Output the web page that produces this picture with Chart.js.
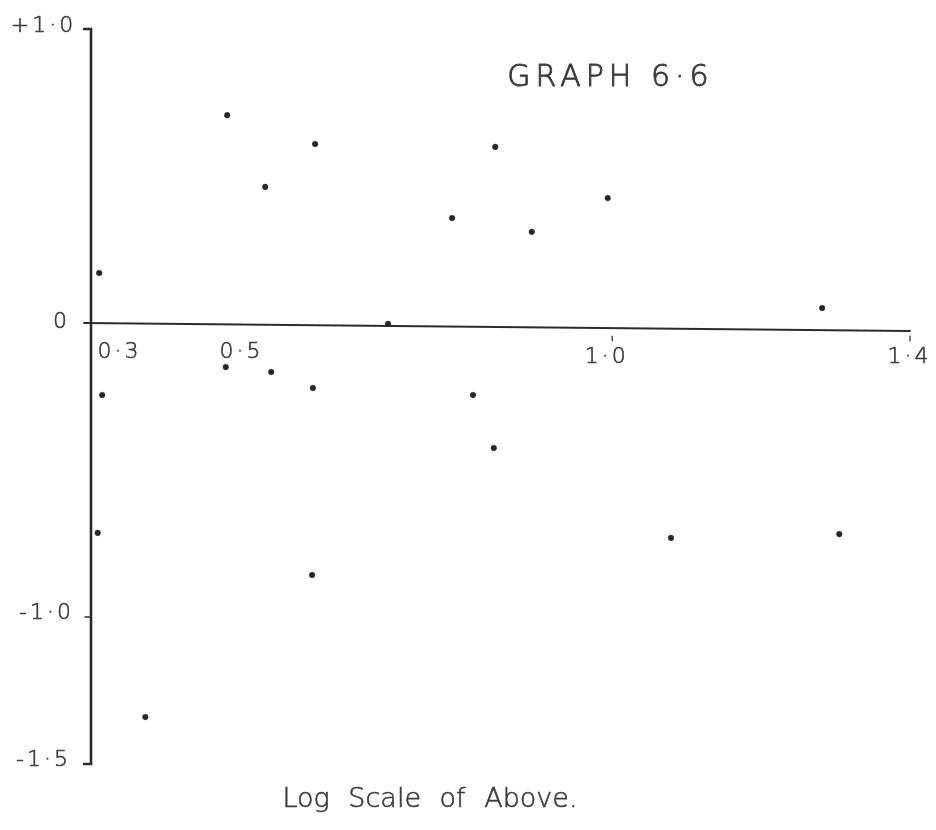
<!DOCTYPE html>
<html>
<head>
<meta charset="utf-8">
<script src="https://cdn.jsdelivr.net/npm/chart.js@4/dist/chart.umd.min.js"></script>
<style>
  html, body { margin: 0; padding: 0; background: #ffffff; }
  #wrap { width: 936px; height: 830px; }
</style>
</head>
<body>
<div id="wrap"><canvas id="c" width="936" height="830"></canvas></div>
<script>
// Measured quantity (x) against its log-scale deviation (y)
const xValues = [0.483, 0.601, 0.534, 0.843, 0.785, 0.892, 0.994, 0.311, 0.699, 1.282,
                 0.481, 0.542, 0.598, 0.315, 0.813, 0.841, 0.309, 1.079, 1.305, 0.597, 0.373];
const yValues = [0.707, 0.609, 0.463, 0.599, 0.357, 0.310, 0.425, 0.170, -0.003, 0.051,
                 -0.150, -0.167, -0.221, -0.245, -0.245, -0.425, -0.714, -0.731, -0.718, -0.857, -1.340];

// Axis tick labels
const xTicks = [0.3, 0.5, 1.0, 1.4];
const xTickLabels = ["0·3", "0·5", "1·0", "1·4"];
const yTicks = [1.0, 0, -1.0, -1.5];
const yTickLabels = ["+1·0", "0", "-1·0", "-1·5"];

const chartTitle = "GRAPH 6·6";
const xAxisTitle = "Log Scale of Above.";

const points = xValues.map((x, i) => ({ x: x, y: yValues[i] }));

const INK = "#2b2b2b";
const PENCIL = "#3c3c3c";
const HAND = "'DejaVu Sans', 'Liberation Sans', sans-serif";

// pen-like text: thin face, slightly thickened by a fine outline
function text(ctx, str, x, y, size, spacing, pen, wordGap) {
  ctx.save();
  ctx.font = "200 " + size + "px " + HAND;
  ctx.letterSpacing = spacing + "px";
  if (wordGap) ctx.wordSpacing = wordGap + "px";
  ctx.fillStyle = PENCIL;
  ctx.strokeStyle = PENCIL;
  ctx.lineWidth = pen;
  ctx.lineJoin = "round";
  ctx.textAlign = "center";
  ctx.textBaseline = "middle";
  ctx.fillText(str, x + spacing / 2, y);
  ctx.strokeText(str, x + spacing / 2, y);
  ctx.restore();
}

const handAxes = {
  id: "handAxes",
  beforeDatasetsDraw(chart) {
    const ctx = chart.ctx;
    const xs = chart.scales.x, ys = chart.scales.y;
    const left = xs.getPixelForValue(0.3);
    const right = xs.getPixelForValue(1.4);
    const top = ys.getPixelForValue(1.0);
    const bottom = ys.getPixelForValue(-1.5);
    const zero = ys.getPixelForValue(0);

    ctx.save();
    ctx.strokeStyle = INK;
    ctx.lineCap = "round";

    // vertical axis with bracket ends
    ctx.lineWidth = 2.6;
    ctx.beginPath();
    ctx.moveTo(left - 7, top);
    ctx.lineTo(left, top);
    ctx.lineTo(left, bottom);
    ctx.lineTo(left - 7, bottom);
    ctx.stroke();

    // small mark at -1.0
    ctx.lineWidth = 1.5;
    ctx.beginPath();
    ctx.moveTo(left - 6, ys.getPixelForValue(-1.0));
    ctx.lineTo(left, ys.getPixelForValue(-1.0));
    ctx.stroke();

    // horizontal axis through zero (ruled freehand, drifting slightly downward)
    ctx.lineWidth = 1.8;
    ctx.beginPath();
    ctx.moveTo(left - 7, zero);
    ctx.lineTo(right, zero + 8);
    ctx.stroke();

    // tick marks at 1.0 and 1.4
    ctx.lineWidth = 1.2;
    [1.0, 1.4].forEach(v => {
      const px = xs.getPixelForValue(v);
      ctx.beginPath();
      ctx.moveTo(px, zero + 13);
      ctx.lineTo(px, zero + 18);
      ctx.stroke();
    });
    ctx.restore();

    // x tick labels (below the zero line)
    const xOff = [27, 0, -7, -2];
    const yOff = [29, 29, 34, 34];
    xTicks.forEach((v, i) => {
      text(ctx, xTickLabels[i], xs.getPixelForValue(v) + xOff[i], zero + yOff[i], 22, 3, 0.6);
    });

    // y tick labels
    const yLabX = [42, 60, 45, 42];
    const yLabOff = [-3, -1, -4, -4];
    yTicks.forEach((v, i) => {
      text(ctx, yTickLabels[i], yLabX[i], ys.getPixelForValue(v) + yLabOff[i], 22, 3, 0.6);
    });

    // headings
    text(ctx, chartTitle, 608, 78, 30, 5, 0.9);
    text(ctx, xAxisTitle, 430, 800, 27, 0, 0.6, 10);
  }
};

new Chart(document.getElementById("c"), {
  type: "scatter",
  data: {
    datasets: [{
      data: points,
      pointRadius: 2.8,
      pointHoverRadius: 2.8,
      pointBackgroundColor: "#262626",
      pointBorderColor: "#262626",
      pointBorderWidth: 0.5
    }]
  },
  options: {
    responsive: false,
    animation: false,
    events: [],
    layout: { padding: { left: 91, right: 26, top: 29, bottom: 66 } },
    plugins: { legend: { display: false }, tooltip: { enabled: false }, title: { display: false } },
    scales: {
      x: { type: "linear", min: 0.3, max: 1.4, display: false },
      y: { type: "linear", min: -1.5, max: 1.0, display: false }
    }
  },
  plugins: [handAxes]
});
</script>
</body>
</html>
